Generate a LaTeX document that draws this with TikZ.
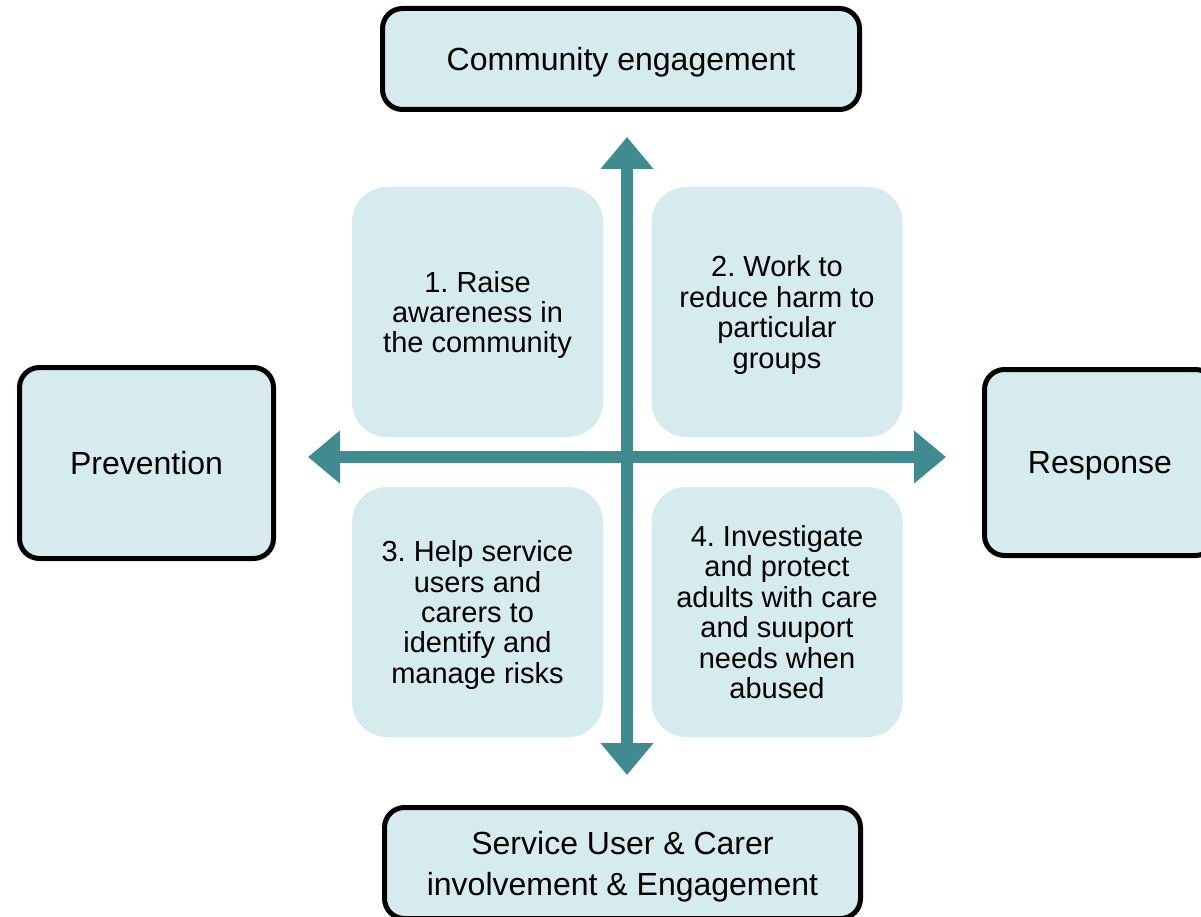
\documentclass[tikz,border=0pt]{standalone}
\usepackage{fontspec}
\setmainfont{Liberation Sans}
\usetikzlibrary{arrows.meta}
\definecolor{boxfill}{HTML}{D6EBEE}
\definecolor{teal}{HTML}{3F8B90}
\frenchspacing
\tikzset{
  outerbox/.style={draw=black, line width=5pt, fill=boxfill, rounded corners=20pt,
    align=center, font=\fontsize{32}{41}\selectfont, inner sep=0pt, text depth=0pt},
  quadbox/.style={fill=boxfill, rounded corners=35pt, minimum width=251pt,
    minimum height=250pt, align=center, font=\fontsize{29}{30.4}\selectfont, inner sep=0pt,
    text depth=0pt},
  crossarrow/.style={draw=teal, line width=12.5pt,
    {Triangle[length=32pt,width=51pt]}-{Triangle[length=32pt,width=51pt]}},
}
\begin{document}
\begin{tikzpicture}[x=1pt,y=-1pt]
\clip (0,0) rectangle (1201,917);
\fill[white] (0,0) rectangle (1201,917);
% quadrant boxes
\node[quadbox] (q1) at (477.5,312) {1. Raise\\awareness in\\the community};
\node[quadbox] (q2) at (777,312) {2. Work to\\reduce harm to\\particular\\groups};
\node[quadbox] (q3) at (477.5,612) {3. Help service\\users and\\carers to\\identify and\\manage risks};
\node[quadbox] (q4) at (777,612) {4. Investigate\\and protect\\adults with care\\and suuport\\needs when\\abused};
% outer boxes
\node[outerbox, minimum width=477pt, minimum height=101pt] (top) at (621,59) {Community engagement};
\node[outerbox, minimum width=254pt, minimum height=191pt] (left) at (146.5,463) {Prevention};
\node[outerbox, minimum width=231pt, minimum height=186pt] (right) at (1100,462.5) {Response};
\node[outerbox, minimum width=476pt, minimum height=111pt] (bottom) at (622.5,863) {Service User \& Carer\\involvement \& Engagement};
% cross arrows
\coordinate (vtop) at (627,137);
\coordinate (vbot) at (627,775);
\coordinate (hleft) at (308,457);
\coordinate (hright) at (946,457);
\draw[crossarrow] (vtop) -- (vbot);
\draw[crossarrow] (hleft) -- (hright);
\end{tikzpicture}
\end{document}
